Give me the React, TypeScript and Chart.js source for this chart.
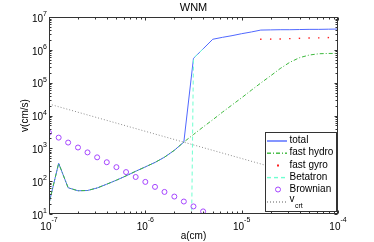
import React, { useEffect, useRef } from 'react';
import { Chart, registerables } from 'chart.js';

Chart.register(...registerables);

// ---------- data ----------
const aValues = [
  1.00e-7, 1.26e-7, 1.58e-7, 2.00e-7, 2.51e-7, 3.16e-7, 3.98e-7, 5.01e-7, 6.31e-7, 7.94e-7,
  1.00e-6, 1.26e-6, 1.58e-6, 2.00e-6, 2.51e-6, 3.16e-6, 3.98e-6, 5.01e-6, 6.31e-6, 7.94e-6,
  1.00e-5, 1.26e-5, 1.58e-5, 2.00e-5, 2.51e-5, 3.16e-5, 3.98e-5, 5.01e-5, 6.31e-5, 7.94e-5,
  1.00e-4,
];
const totalV = [
  21, 350, 63, 51, 52, 62, 81, 107, 145, 200,
  272, 372, 537, 871, 1550, 5.5e5, 1.07e6, 2.1e6, 2.4e6, 2.7e6,
  3.1e6, 3.5e6, 4.0e6, 4.05e6, 4.1e6, 4.1e6, 4.15e6, 4.2e6, 4.2e6, 4.25e6,
  4.3e6,
];
const hydroV = [
  21, 350, 63, 51, 52, 62, 81, 107, 145, 200,
  272, 372, 537, 871, 1550, 2630, 4470, 7410, 12600, 20900,
  34700, 58900, 97700, 162000, 269000, 417000, 575000, 692000, 759000, 776000,
  776000,
];
const gyroA = [1.58e-5, 2.00e-5, 2.51e-5, 3.16e-5, 3.98e-5, 5.01e-5, 6.31e-5, 7.94e-5, 1.00e-4];
const gyroV = [2.1e6, 2.12e6, 2.15e6, 2.2e6, 2.24e6, 2.28e6, 2.32e6, 2.36e6, 2.4e6];
const betaA = [2.51e-6, 3.16e-6, 3.98e-6];
const betaV = [1e-20, 5.5e5, 1.07e6];
const brownA = [
  1.00e-7, 1.26e-7, 1.58e-7, 2.00e-7, 2.51e-7, 3.16e-7, 3.98e-7, 5.01e-7, 6.31e-7, 7.94e-7,
  1.00e-6, 1.26e-6, 1.58e-6, 2.00e-6, 2.51e-6, 3.16e-6, 3.98e-6,
];
const brownV = [2990, 2120, 1500, 1060, 752, 532, 377, 267, 189, 134, 95, 67, 47, 34, 24, 17, 12];
const vcrtA = [1e-7, 1e-6, 1e-5, 1e-4];
const vcrtV = [22400, 3300, 490, 72];

const xDecades = [1e-7, 1e-6, 1e-5, 1e-4];
const xTickExps = ['-7', '-6', '-5', '-4'];
const yDecades = [1e1, 1e2, 1e3, 1e4, 1e5, 1e6, 1e7];
const yTickExps = ['1', '2', '3', '4', '5', '6', '7'];

const titleText = 'WNM';
const xLabel = 'a(cm)';
const yLabel = 'v(cm/s)';
const seriesNames = ['total', 'fast hydro', 'fast gyro', 'Betatron', 'Brownian', 'v_crt'];

// ---------- styles ----------
const FONT = '"Liberation Sans", Arial, Helvetica, sans-serif';
const C_TOTAL = '#5068ff';
const C_HYDRO = '#3cb83c';
const C_GYRO = '#ff2020';
const C_BETA = '#6fffd0';
const C_BROWN = '#a545ff';
const C_VCRT = '#8c8c8c';
const AXIS = '#333333';

const DASH_HYDRO = [4, 2, 1, 2];
const DASH_BETA = [4, 3];
const DASH_VCRT = [1, 2];

type LegendItem = { kind: 'line' | 'dot' | 'circle'; color: string; dash: number[] };
const legendStyles: LegendItem[] = [
  { kind: 'line', color: C_TOTAL, dash: [] },
  { kind: 'line', color: C_HYDRO, dash: DASH_HYDRO },
  { kind: 'dot', color: C_GYRO, dash: [] },
  { kind: 'line', color: C_BETA, dash: DASH_BETA },
  { kind: 'circle', color: C_BROWN, dash: [] },
  { kind: 'line', color: C_VCRT, dash: DASH_VCRT },
];

const pts = (xs: number[], ys: number[]) => xs.map((x, i) => ({ x, y: ys[i] }));

const axesPlugin = {
  id: 'matlabAxes',
  afterDatasetsDraw(chart: any) {
    const { ctx, chartArea: ca, scales } = chart;
    const xs = scales.x;
    const ys = scales.y;
    const L = Math.round(ca.left) + 0.5;
    const R = Math.round(ca.right) - 0.5;
    const T = Math.round(ca.top) + 0.5;
    const B = Math.round(ca.bottom) - 0.5;
    ctx.save();
    ctx.strokeStyle = AXIS;
    ctx.lineWidth = 1;
    ctx.setLineDash([]);
    ctx.strokeRect(L, T, R - L, B - T);

    const xTick = (v: number, len: number) => {
      const px = Math.round(xs.getPixelForValue(v)) + 0.5;
      ctx.beginPath();
      ctx.moveTo(px, B); ctx.lineTo(px, B - len);
      ctx.moveTo(px, T); ctx.lineTo(px, T + len);
      ctx.stroke();
    };
    const yTick = (v: number, len: number) => {
      const py = Math.round(ys.getPixelForValue(v)) + 0.5;
      ctx.beginPath();
      ctx.moveTo(L, py); ctx.lineTo(L + len, py);
      ctx.moveTo(R, py); ctx.lineTo(R - len, py);
      ctx.stroke();
    };
    xDecades.forEach((d, i) => {
      xTick(d, 3);
      if (i < xDecades.length - 1) for (let m = 2; m <= 9; m++) xTick(m * d, 2);
    });
    yDecades.forEach((d, i) => {
      yTick(d, 3);
      if (i < yDecades.length - 1) for (let m = 2; m <= 9; m++) yTick(m * d, 2);
    });

    // tick labels
    ctx.fillStyle = '#000';
    ctx.textBaseline = 'alphabetic';
    xDecades.forEach((d, i) => {
      const px = xs.getPixelForValue(d);
      ctx.font = `10px ${FONT}`;
      const w1 = ctx.measureText('10').width;
      ctx.font = `7px ${FONT}`;
      const w2 = ctx.measureText(xTickExps[i]).width;
      const x0 = px - (w1 + w2) / 2;
      ctx.textAlign = 'left';
      ctx.font = `10px ${FONT}`;
      ctx.fillText('10', x0, 230);
      ctx.font = `7px ${FONT}`;
      ctx.fillText(xTickExps[i], x0 + w1, 221.5);
    });
    yDecades.forEach((d, i) => {
      const py = ys.getPixelForValue(d);
      ctx.font = `7px ${FONT}`;
      const w2 = ctx.measureText(yTickExps[i]).width;
      ctx.textAlign = 'right';
      ctx.fillText(yTickExps[i], 47, py - 1);
      ctx.font = `10px ${FONT}`;
      ctx.fillText('10', 47 - w2, py + 4.8);
    });

    // axis labels and title
    ctx.textAlign = 'center';
    ctx.font = `10px ${FONT}`;
    ctx.fillText(xLabel, (ca.left + ca.right) / 2, 239);
    ctx.font = `11px ${FONT}`;
    ctx.fillText(titleText, (ca.left + ca.right) / 2, 10.5);
    ctx.save();
    ctx.translate(25, (ca.top + ca.bottom) / 2);
    ctx.rotate(-Math.PI / 2);
    ctx.font = `10px ${FONT}`;
    ctx.textBaseline = 'middle';
    ctx.fillText(yLabel, 0, 0);
    ctx.restore();
    ctx.restore();
  },
};

// draws a horizontal line sample with an optional dash pattern using fills
const sampleLine = (ctx: CanvasRenderingContext2D, x1: number, x2: number, y: number, color: string, dash: number[]) => {
  ctx.fillStyle = color;
  if (!dash.length) {
    ctx.fillRect(x1, y, x2 - x1, 1.4);
    return;
  }
  let x = x1;
  let k = 0;
  while (x < x2) {
    const len = dash[k % dash.length];
    if (k % 2 === 0) ctx.fillRect(x, y, Math.min(len, x2 - x), 1.4);
    x += len;
    k++;
  }
};

const legendPlugin = {
  id: 'matlabLegend',
  afterDraw(chart: any) {
    const ctx: CanvasRenderingContext2D = chart.ctx;
    const bx = 265.5, by = 132.5, bw = 71, bh = 79;
    ctx.save();
    ctx.setLineDash([]);
    ctx.fillStyle = '#ffffff';
    ctx.fillRect(bx, by, bw, bh);
    ctx.strokeStyle = AXIS;
    ctx.lineWidth = 1;
    ctx.strokeRect(bx, by, bw, bh);
    const x1 = 267, x2 = 287, xm = 278, tx = 289.5;
    const rowY = (i: number) => 140.5 + 12.2 * i;
    seriesNames.forEach((name, i) => {
      const st = legendStyles[i];
      const yc = rowY(i);
      if (st.kind === 'line') {
        sampleLine(ctx, x1, x2, yc - 0.2, st.color, st.dash);
      } else if (st.kind === 'circle') {
        ctx.save();
        ctx.setLineDash([]);
        ctx.lineWidth = 1;
        ctx.strokeStyle = st.color;
        ctx.beginPath();
        ctx.arc(xm, Math.round(yc) + 0.5, 2.5, 0, Math.PI * 2);
        ctx.stroke();
        ctx.restore();
      } else {
        ctx.fillStyle = st.color;
        ctx.fillRect(xm - 1, Math.round(yc) - 0.5, 2, 2);
      }
      ctx.fillStyle = '#000000';
      ctx.textAlign = 'left';
      if (name === 'v_crt') {
        ctx.textBaseline = 'alphabetic';
        ctx.font = `10px ${FONT}`;
        ctx.fillText('v', tx, 202);
        const wv = ctx.measureText('v').width;
        ctx.font = `7px ${FONT}`;
        ctx.fillText('crt', tx + wv + 0.5, 207.5);
      } else {
        ctx.textBaseline = 'middle';
        ctx.font = `10px ${FONT}`;
        ctx.fillText(name, tx, yc);
      }
    });
    ctx.restore();
  },
};

export default function App() {
  const ref = useRef<HTMLCanvasElement | null>(null);

  useEffect(() => {
    document.body.style.margin = '0';
    const canvas = ref.current;
    if (!canvas) return;
    const chart = new Chart(canvas, {
      type: 'line',
      data: {
        datasets: [
          {
            label: seriesNames[0],
            data: pts(aValues, totalV),
            borderColor: C_TOTAL,
            borderWidth: 1,
            pointRadius: 0,
            order: 6,
          },
          {
            label: seriesNames[1],
            data: pts(aValues, hydroV),
            borderColor: C_HYDRO,
            borderWidth: 1,
            borderDash: DASH_HYDRO,
            pointRadius: 0,
            order: 5,
          },
          {
            label: seriesNames[2],
            data: pts(gyroA, gyroV),
            showLine: false,
            pointStyle: 'rect',
            pointRadius: 1,
            pointBackgroundColor: C_GYRO,
            pointBorderColor: C_GYRO,
            pointBorderWidth: 0,
            borderColor: C_GYRO,
            order: 4,
          },
          {
            label: seriesNames[3],
            data: pts(betaA, betaV),
            borderColor: C_BETA,
            borderWidth: 1,
            borderDash: DASH_BETA,
            pointRadius: 0,
            order: 3,
          },
          {
            label: seriesNames[4],
            data: pts(brownA, brownV),
            showLine: false,
            pointStyle: 'circle',
            pointRadius: 2.5,
            pointBorderWidth: 1,
            pointBorderColor: C_BROWN,
            pointBackgroundColor: 'rgba(0,0,0,0)',
            borderColor: C_BROWN,
            order: 2,
          },
          {
            label: seriesNames[5],
            data: pts(vcrtA, vcrtV),
            borderColor: C_VCRT,
            borderWidth: 1,
            borderDash: DASH_VCRT,
            pointRadius: 0,
            order: 1,
          },
        ] as any,
      },
      options: {
        animation: false,
        responsive: false,
        devicePixelRatio: 1,
        layout: { padding: { left: 49, top: 17, right: 36, bottom: 28 } },
        scales: {
          x: { type: 'logarithmic', min: 1e-7, max: 1e-4, display: false },
          y: { type: 'logarithmic', min: 10, max: 1e7, display: false },
        },
        plugins: {
          legend: { display: false },
          tooltip: { enabled: false },
          title: { display: false },
        },
        elements: { line: { tension: 0 } },
      } as any,
      plugins: [axesPlugin, legendPlugin],
    });
    return () => chart.destroy();
  }, []);

  return (
    <div style={{ position: 'fixed', left: 0, top: 0, width: 374, height: 242, background: '#fff' }}>
      <canvas ref={ref} width={374} height={242} style={{ width: 374, height: 242, display: 'block' }} />
    </div>
  );
}
